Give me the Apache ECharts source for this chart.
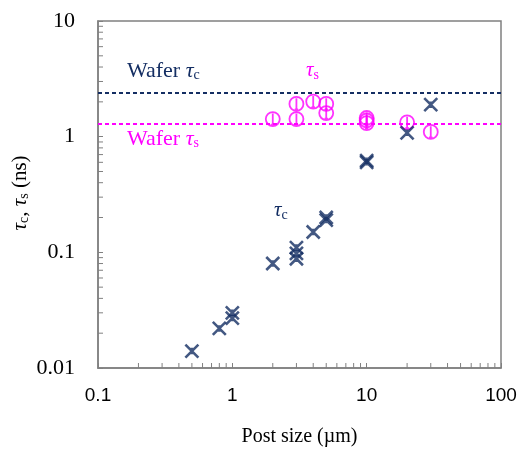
<!DOCTYPE html>
<html>
<head>
<meta charset="utf-8">
<script src="https://cdn.jsdelivr.net/npm/echarts@6/dist/echarts.min.js"></script>
<style>
  html, body { margin: 0; padding: 0; background: #fff; }
  #chart { width: 521px; height: 452px; }
</style>
</head>
<body>
<div id="chart"></div>
<script>
// post size (um) and lifetimes (ns)
var tcX = [0.5, 0.8, 1, 1, 2, 3, 3, 3, 4, 5, 5, 10, 10, 20, 30];
var tcY = [0.014, 0.022, 0.03, 0.027, 0.08, 0.11, 0.098, 0.088, 0.15, 0.2, 0.19, 0.6, 0.62, 1.08, 1.89];
var tsX = [2, 3, 3, 4, 5, 5, 10, 10, 10, 20, 30];
var tsY = [1.42, 1.92, 1.42, 2.01, 1.92, 1.6, 1.45, 1.38, 1.31, 1.33, 1.1];
var waferTc = 2.38;
var waferTs = 1.29;
var xRange = [0.1, 100];
var yRange = [0.01, 10];
var xMinor = [0.2,0.3,0.4,0.5,0.6,0.7,0.8,0.9, 2,3,4,5,6,7,8,9, 20,30,40,50,60,70,80,90];
var yMinor = [0.02,0.03,0.04,0.05,0.06,0.07,0.08,0.09, 0.2,0.3,0.4,0.5,0.6,0.7,0.8,0.9, 2,3,4,5,6,7,8,9];

var navy = '#142e63';
var magenta = '#ff00ff';
var frame = '#808080';
var serif = '"Liberation Serif", "DejaVu Serif", serif';

function pairs(xs, ys) {
  return xs.map(function (x, i) { return [x, ys[i]]; });
}

// tau with subscript, as rich text
function tauRich(color, size) {
  return {
    a: { fontSize: size, fontFamily: serif, fill: color },
    t: { fontSize: size, fontFamily: serif, fontStyle: 'italic', fill: color },
    s: { fontSize: 14, fontFamily: serif, fill: color, padding: [9, 0, 0, 0] }
  };
}

var crossPath = 'path://M0,0L10,10M10,0L0,10M4,3.5L6,3.5M4,6.5L6,6.5';
var circlePath = 'path://M0,5A5,5 0 1 1 10,5A5,5 0 1 1 0,5ZM5,1L5,9M3.8,9L6.2,9';

var chart = echarts.init(document.getElementById('chart'));
chart.setOption({
  animation: false,
  grid: {
    left: 98, right: 20, top: 21, bottom: 83,
    show: true, borderColor: frame, borderWidth: 1.5
  },
  xAxis: {
    type: 'log', logBase: 10, min: xRange[0], max: xRange[1],
    axisLine: { show: true, lineStyle: { color: frame, width: 1.5 } },
    axisTick: { inside: true, length: 5, lineStyle: { color: frame } },
    splitLine: { show: false },
    axisLabel: {
      color: '#000', fontSize: 19, margin: 18,
      fontFamily: '"Liberation Sans", Arial, sans-serif'
    },
    name: 'Post size (µm)', nameLocation: 'middle', nameGap: 59,
    nameTextStyle: { color: '#000', fontSize: 20, fontFamily: serif }
  },
  yAxis: {
    type: 'log', logBase: 10, min: yRange[0], max: yRange[1],
    axisLine: { show: true, lineStyle: { color: frame, width: 1.5 } },
    axisTick: { inside: true, length: 5, lineStyle: { color: frame } },
    splitLine: { show: false },
    axisLabel: { color: '#000', fontSize: 22, margin: 23, fontFamily: serif }
  },
  graphic: [
    {
      type: 'text', left: 127, top: 60,
      style: { text: '{a|Wafer }{t|τ}{s|c}', rich: tauRich(navy, 22) }
    },
    {
      type: 'text', left: 306, top: 60,
      style: { text: '{t|τ}{s|s}', rich: tauRich(magenta, 21) }
    },
    {
      type: 'text', left: 127, top: 128,
      style: { text: '{a|Wafer }{t|τ}{s|s}', rich: tauRich(magenta, 22) }
    },
    {
      type: 'text', left: 274, top: 200,
      style: { text: '{t|τ}{s|c}', rich: tauRich(navy, 21) }
    },
    {
      type: 'text', x: 20, y: 193, rotation: Math.PI / 2,
      style: {
        text: '{t|τ}{s|c}{a|, }{t|τ}{s|s}{a| (ns)}',
        align: 'center', verticalAlign: 'middle',
        rich: tauRich('#000', 21)
      }
    }
  ],
  series: [
    {
      // minor ticks on the log axes
      type: 'custom', silent: true, clip: false,
      data: xMinor.map(function (v) { return [v, 0]; }).concat(yMinor.map(function (v) { return [v, 1]; })),
      renderItem: function (params, api) {
        var v = api.value(0), axis = api.value(1);
        if (axis === 0) {
          var p = api.coord([v, yRange[0]]);
          return { type: 'line', shape: { x1: p[0], y1: p[1], x2: p[0], y2: p[1] - 5 }, style: { stroke: frame, lineWidth: 1 } };
        }
        var q = api.coord([xRange[0], v]);
        return { type: 'line', shape: { x1: q[0], y1: q[1], x2: q[0] + 5, y2: q[1] }, style: { stroke: frame, lineWidth: 1 } };
      },
      encode: { x: 0 }
    },
    {
      name: 'Wafer tc', type: 'line', symbol: 'none', silent: true,
      data: [[xRange[0], waferTc], [xRange[1], waferTc]],
      lineStyle: { color: navy, width: 2, type: [4, 3] }
    },
    {
      name: 'Wafer ts', type: 'line', symbol: 'none', silent: true,
      data: [[xRange[0], waferTs], [xRange[1], waferTs]],
      lineStyle: { color: magenta, width: 2, type: [4, 3] }
    },
    {
      name: 'ts', type: 'scatter', symbol: circlePath, symbolSize: 14,
      data: pairs(tsX, tsY),
      itemStyle: { color: 'rgba(0,0,0,0)', borderColor: magenta, borderWidth: 1.8 }
    },
    {
      name: 'tc', type: 'scatter', symbol: crossPath, symbolSize: 13,
      data: pairs(tcX, tcY),
      itemStyle: { color: 'rgba(0,0,0,0)', borderColor: navy, borderWidth: 2.6 }
    }
  ]
});
</script>
</body>
</html>
